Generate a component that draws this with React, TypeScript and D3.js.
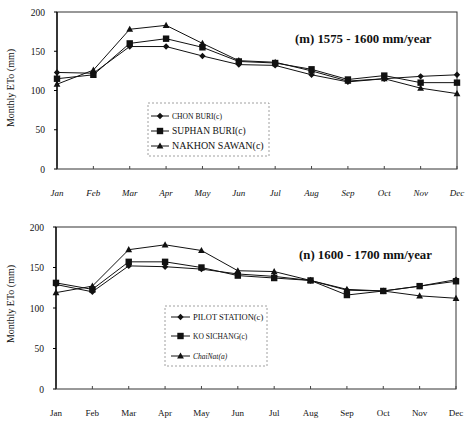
import React from "react";
import * as d3 from "d3";

const months = ["Jan", "Feb", "Mar", "Apr", "May", "Jun", "Jul", "Aug", "Sep", "Oct", "Nov", "Dec"];
const yTicks = [0, 50, 100, 150, 200];

const topNames = ["CHON BURI(c)", "SUPHAN BURI(c)", "NAKHON SAWAN(c)"];
const chonBuri = [123, 122, 156, 156, 144, 133, 132, 120, 111, 115, 118, 120];
const suphanBuri = [115, 120, 160, 166, 155, 137, 135, 127, 114, 119, 110, 110];
const nakhonSawan = [108, 126, 178, 183, 160, 138, 136, 125, 112, 115, 103, 96];

const bottomNames = ["PILOT STATION(c)", "KO SICHANG(c)", "ChaiNat(a)"];
const pilotStation = [129, 120, 152, 151, 148, 142, 139, 134, 122, 121, 127, 135];
const koSichang = [131, 123, 157, 157, 150, 140, 137, 134, 116, 121, 127, 133];
const chaiNat = [119, 127, 172, 178, 171, 146, 145, 134, 123, 121, 115, 112];

type Shape = "diamond" | "square" | "triangle";
const shapes: Shape[] = ["diamond", "square", "triangle"];

function Marker({ shape, x, y }: { shape: Shape; x: number; y: number }) {
  if (shape === "square") return <rect x={x - 3.2} y={y - 3.2} width={6.4} height={6.4} fill="#111" />;
  if (shape === "diamond") return <path d={`M${x},${y - 3.2}L${x + 3.2},${y}L${x},${y + 3.2}L${x - 3.2},${y}Z`} fill="#111" />;
  return <path d={`M${x},${y - 3.6}L${x + 3.4},${y + 2.6}L${x - 3.4},${y + 2.6}Z`} fill="#111" />;
}

interface PanelProps {
  top: number;
  bottom: number;
  left: number;
  right: number;
  series: number[][];
  names: string[];
  nameSizes: number[];
  nameItalic: boolean[];
  title: string;
  titleX: number;
  titleY: number;
  italicMonths: boolean;
  monthY: number;
  legend: { x0: number; x1: number; y0: number; y1: number; rows: number[]; lx0: number; lx1: number; tx: number };
  labelY: number;
}

function Panel(p: PanelProps) {
  const x = d3.scalePoint<string>().domain(months).range([p.left, p.right]);
  const y = d3.scaleLinear().domain([0, 200]).range([p.bottom, p.top]);
  const line = d3
    .line<number>()
    .x((_, i) => x(months[i])!)
    .y((d) => y(d));
  return (
    <g>
      <rect x={p.left} y={p.top} width={p.right - p.left} height={p.bottom - p.top} fill="none" stroke="#333" strokeWidth={1} />
      <line x1={p.left} x2={p.left} y1={p.top} y2={p.bottom} stroke="#000" strokeWidth={1.3} />
      {yTicks.map((t) => (
        <g key={t}>
          <line x1={p.left - 3} x2={p.left} y1={y(t)} y2={y(t)} stroke="#000" />
          <text x={p.left - 12} y={y(t) + 3.5} textAnchor="end" fontSize={9.5} fontFamily="Liberation Serif, serif" fill="#111">
            {t}
          </text>
        </g>
      ))}
      {months.map((m) => (
        <g key={m}>
          <line x1={x(m)!} x2={x(m)!} y1={p.bottom} y2={p.bottom - 3} stroke="#444" />
          <text
            x={x(m)!}
            y={p.monthY}
            textAnchor="middle"
            fontSize={9}
            fontStyle={p.italicMonths ? "italic" : "normal"}
            fontFamily="Liberation Serif, serif"
            fill="#111"
          >
            {m}
          </text>
        </g>
      ))}
      <text
        transform={`translate(14,${p.labelY}) rotate(-90)`}
        textAnchor="middle"
        fontSize={10}
        fontFamily="Liberation Serif, serif"
        fill="#111"
      >
        Monthly ETo (mm)
      </text>
      {p.series.map((s, si) => (
        <g key={si}>
          <path d={line(s)!} fill="none" stroke="#111" strokeWidth={1} />
          {s.map((v, i) => (
            <Marker key={i} shape={shapes[si]} x={x(months[i])!} y={y(v)} />
          ))}
        </g>
      ))}
      <text x={p.titleX} y={p.titleY} fontSize={12.8} fontWeight="bold" fontFamily="Liberation Serif, serif" fill="#111">
        {p.title}
      </text>
      <rect
        x={p.legend.x0}
        y={p.legend.y0}
        width={p.legend.x1 - p.legend.x0}
        height={p.legend.y1 - p.legend.y0}
        fill="#fff"
        stroke="#888"
        strokeWidth={0.8}
        strokeDasharray="2,2"
      />
      {p.names.map((n, i) => {
        const ry = p.legend.rows[i];
        return (
          <g key={n}>
            <line x1={p.legend.lx0} x2={p.legend.lx1} y1={ry} y2={ry} stroke="#111" />
            <Marker shape={shapes[i]} x={(p.legend.lx0 + p.legend.lx1) / 2} y={ry} />
            <text
              x={p.legend.tx}
              y={ry + 3.3}
              fontSize={p.nameSizes[i]}
              fontStyle={p.nameItalic[i] ? "italic" : "normal"}
              fontFamily="Liberation Serif, serif"
              fill="#111"
            >
              {n}
            </text>
          </g>
        );
      })}
    </g>
  );
}

export default function App() {
  return (
    <svg width={465} height={424} style={{ position: "absolute", left: 0, top: 0, background: "#fff" }}>
      <Panel
        top={12}
        bottom={169}
        left={57}
        right={457}
        series={[chonBuri, suphanBuri, nakhonSawan]}
        names={topNames}
        nameSizes={[7.6, 9.5, 10]}
        nameItalic={[false, false, false]}
        title="(m) 1575 - 1600 mm/year"
        titleX={295}
        titleY={43}
        italicMonths={true}
        monthY={196}
        legend={{ x0: 148, x1: 269, y0: 103, y1: 156, rows: [116, 131, 146], lx0: 151, lx1: 169, tx: 172 }}
        labelY={88}
      />
      <Panel
        top={227}
        bottom={389}
        left={56}
        right={456}
        series={[pilotStation, koSichang, chaiNat]}
        names={bottomNames}
        nameSizes={[8.5, 7.5, 7.5]}
        nameItalic={[false, false, true]}
        title="(n) 1600 - 1700 mm/year"
        titleX={299}
        titleY={259}
        italicMonths={false}
        monthY={416}
        legend={{ x0: 165, x1: 267, y0: 306, y1: 366, rows: [317, 336, 356], lx0: 171, lx1: 190, tx: 193 }}
        labelY={304}
      />
    </svg>
  );
}
